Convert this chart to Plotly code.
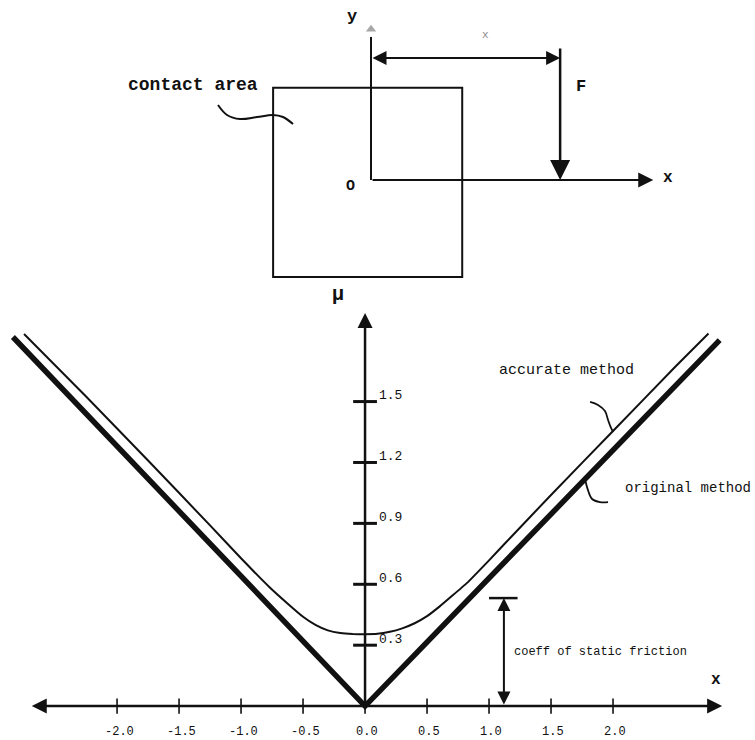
import plotly.graph_objects as go

# ---- friction curves: mu against load offset x ----
x_ticks = [-2.0, -1.5, -1.0, -0.5, 0.0, 0.5, 1.0, 1.5, 2.0]
x_tick_labels = ["-2.0", "-1.5", "-1.0", "-0.5", "0.0", "0.5", "1.0", "1.5", "2.0"]
mu_ticks = [0.3, 0.6, 0.9, 1.2, 1.5]
mu_tick_labels = ["0.3", "0.6", "0.9", "1.2", "1.5"]

original_x = [-2.84, 0.0, 2.86]
original_mu = [1.818, 0.0, 1.803]

accurate_x = [-2.75, -2.25, -1.75, -1.25, -1.0, -0.766, -0.63, -0.5, -0.4, -0.3,
              -0.2, -0.1, 0.0, 0.1, 0.2, 0.3, 0.4, 0.5, 0.6, 0.7, 0.823, 1.0,
              1.145, 1.5, 2.0, 2.5, 2.77]
accurate_mu = [1.833, 1.525, 1.21, 0.89, 0.728, 0.583, 0.508, 0.44, 0.40, 0.373,
               0.36, 0.355, 0.354, 0.356, 0.366, 0.383, 0.408, 0.443, 0.49, 0.542,
               0.607, 0.718, 0.812, 1.04, 1.355, 1.67, 1.835]

static_friction_x = 1.12
static_friction_mu = 0.532

# hand-drawn leader strokes next to the curve labels
accurate_leader_x = [1.815, 1.879, 1.935, 1.96, 1.984, 2.0]
accurate_leader_mu = [1.498, 1.483, 1.453, 1.409, 1.37, 1.35]
original_leader_x = [1.77, 1.798, 1.831, 1.895, 1.96]
original_leader_mu = [1.13, 1.064, 1.02, 1.005, 1.005]

# ---- contact-area sketch (units of half the square's width) ----
square_u = [-1.02, 0.95]
square_v = [-1.01, 0.96]
force_u = 1.97
force_top_v = 1.385
dimension_v = 1.27
y_axis_top_v = 1.49
x_axis_tip_u = 2.94
contact_leader_u = [-1.594, -1.5, -1.365, -1.1875, -1.021, -0.917, -0.8125]
contact_leader_v = [0.781, 0.677, 0.635, 0.656, 0.677, 0.656, 0.583]

FONT = "Liberation Mono"
INK = "#111111"

fig = go.Figure()

# curves
fig.add_trace(go.Scatter(x=original_x, y=original_mu, mode="lines",
                         line=dict(color=INK, width=5.5), hoverinfo="skip"))
fig.add_trace(go.Scatter(x=accurate_x, y=accurate_mu, mode="lines",
                         line=dict(color=INK, width=2, shape="spline", smoothing=0.3),
                         hoverinfo="skip"))
# leaders
for lx, ly in [(accurate_leader_x, accurate_leader_mu), (original_leader_x, original_leader_mu)]:
    fig.add_trace(go.Scatter(x=lx, y=ly, mode="lines",
                             line=dict(color=INK, width=1.8, shape="spline"),
                             hoverinfo="skip"))

# tick marks on the drawn axes
fig.add_trace(go.Scatter(x=[0.0] * len(mu_ticks), y=mu_ticks, mode="markers",
                         marker=dict(symbol="line-ew", size=17,
                                     line=dict(color=INK, width=3)),
                         hoverinfo="skip"))
fig.add_trace(go.Scatter(x=x_ticks, y=[0.0] * len(x_ticks), mode="markers",
                         marker=dict(symbol="line-ns", size=11,
                                     line=dict(color=INK, width=1.6)),
                         hoverinfo="skip"))

# sketch: leader from label to the square
fig.add_trace(go.Scatter(x=contact_leader_u, y=contact_leader_v, mode="lines",
                         xaxis="x2", yaxis="y2",
                         line=dict(color=INK, width=2, shape="spline"),
                         hoverinfo="skip"))
# faint arrow tip on the sketch's y axis
fig.add_trace(go.Scatter(x=[0.0], y=[y_axis_top_v + 0.08], mode="markers",
                         xaxis="x2", yaxis="y2",
                         marker=dict(symbol="triangle-up", size=9, color="#8a8a8a",
                                     opacity=0.75),
                         hoverinfo="skip"))

shapes = [
    # coefficient of static friction bar
    dict(type="line", xref="x", yref="y",
         x0=static_friction_x - 0.12, x1=static_friction_x + 0.11,
         y0=static_friction_mu, y1=static_friction_mu,
         line=dict(color=INK, width=2.5)),
    # contact area
    dict(type="rect", xref="x2", yref="y2",
         x0=square_u[0], x1=square_u[1], y0=square_v[0], y1=square_v[1],
         line=dict(color=INK, width=2)),
    # sketch y axis
    dict(type="line", xref="x2", yref="y2", x0=0, x1=0, y0=0, y1=y_axis_top_v,
         line=dict(color=INK, width=2)),
]

annotations = []


def arrow(x0, y0, x1, y1, ref="", width=2.5, size=1.2, both=False):
    annotations.append(dict(
        x=x1, y=y1, ax=x0, ay=y0, text="",
        xref="x" + ref, yref="y" + ref, axref="x" + ref, ayref="y" + ref,
        showarrow=True, arrowhead=2, arrowsize=size, arrowwidth=width,
        arrowcolor=INK, arrowside="end+start" if both else "end",
        startarrowhead=2, startarrowsize=size, standoff=0, startstandoff=0))


def label(x, y, text, ref="", size=12, xanchor="center", yanchor="middle",
          xshift=0, yshift=0, color=INK):
    annotations.append(dict(
        x=x, y=y, text=text, xref="x" + ref, yref="y" + ref, showarrow=False,
        xanchor=xanchor, yanchor=yanchor, xshift=xshift, yshift=yshift,
        font=dict(family=FONT, size=size, color=color)))


# bottom chart axes
arrow(-2.70, 0.0, 2.88, 0.0, width=2.5, size=1.2, both=True)
arrow(0.0, 0.0, 0.0, 1.936, width=2.5, size=1.2)
arrow(static_friction_x, 0.0, static_friction_x, static_friction_mu,
      width=2, size=1.3, both=True)

for t, s in zip(x_ticks, x_tick_labels):
    label(t, 0.0, s, size=12, xshift=2, yshift=-26)
for t, s in zip(mu_ticks, mu_tick_labels):
    label(0.0, t, s, size=13, xanchor="left", xshift=12, yshift=6)

label(-0.218, 2.025, "<b>μ</b>", size=20)
label(2.83, 0.128, "<b>x</b>", size=16)
label(1.065, 1.655, "accurate method", size=15, xanchor="left")
label(2.08, 1.074, "original method", size=14, xanchor="left")
label(1.185, 0.266, "coeff of static friction", size=12, xanchor="left")

# sketch
arrow(0.0, 0.0, x_axis_tip_u, 0.0, ref="2", width=2, size=1.5)
arrow(force_u, force_top_v, force_u, 0.0, ref="2", width=2.5, size=1.6)
arrow(0.0, dimension_v, force_u, dimension_v, ref="2", width=2, size=1.4, both=True)

label(-1.854, 0.99, "<b>contact area</b>", ref="2", size=18)
label(-0.198, 1.698, "<b>y</b>", ref="2", size=17)
label(3.09, 0.02, "<b>x</b>", ref="2", size=16)
label(2.19, 0.97, "<b>F</b>", ref="2", size=17)
label(-0.219, -0.0625, "<b>O</b>", ref="2", size=15)
label(1.1875, 1.51, "x", ref="2", size=11, color="#8a8a8a")

hidden = dict(visible=False, showgrid=False, zeroline=False, fixedrange=True)
fig.update_layout(
    width=755, height=740,
    margin=dict(l=0, r=0, t=0, b=0),
    paper_bgcolor="white", plot_bgcolor="white",
    showlegend=False,
    xaxis=dict(range=[-2.944, 3.145], domain=[0, 1], **hidden),
    yaxis=dict(range=[-0.167, 3.478], domain=[0, 1], **hidden),
    xaxis2=dict(range=[-3.865, 4.0], domain=[0, 1], overlaying="x", **hidden),
    yaxis2=dict(range=[-5.833, 1.875], domain=[0, 1], overlaying="y", **hidden),
    shapes=shapes,
    annotations=annotations,
)

fig.write_html("out.html")
